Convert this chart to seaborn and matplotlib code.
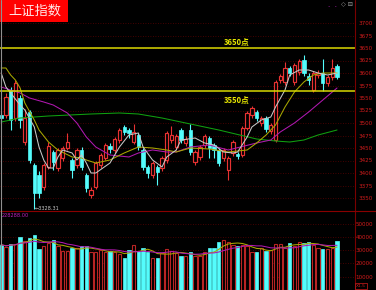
import numpy as np
import pandas as pd
import matplotlib
matplotlib.use("Agg")
import matplotlib.pyplot as plt
from matplotlib.patches import Rectangle
from matplotlib.lines import Line2D
import seaborn as sns

# ---------------- data ----------------
opens = [3516, 3516, 3566, 3510, 3550, 3462, 3522, 3416, 3396, 3372,
         3412, 3442, 3410, 3430, 3450, 3426, 3416, 3446, 3396, 3356,
         3372, 3416, 3430, 3454, 3446, 3466, 3492, 3486, 3462, 3476,
         3446, 3412, 3396, 3412, 3410, 3426, 3466, 3452, 3486, 3460,
         3486, 3422, 3432, 3456, 3470, 3456, 3446, 3430, 3406, 3440,
         3438, 3436, 3490, 3516, 3522, 3500, 3510, 3484, 3466, 3586,
         3582, 3610, 3582, 3602, 3626, 3594, 3566, 3596, 3600, 3580,
         3592, 3614]
closes = [3510, 3552, 3506, 3580, 3506, 3510, 3426, 3360, 3360, 3416,
          3454, 3422, 3446, 3450, 3462, 3406, 3446, 3412, 3370, 3366,
          3420, 3436, 3456, 3448, 3468, 3486, 3482, 3480, 3482, 3452,
          3412, 3400, 3420, 3402, 3430, 3480, 3476, 3474, 3466, 3468,
          3442, 3442, 3452, 3474, 3450, 3446, 3420, 3446, 3430, 3462,
          3434, 3490, 3520, 3530, 3510, 3510, 3488, 3496, 3582, 3594,
          3610, 3600, 3616, 3624, 3600, 3586, 3600, 3600, 3580, 3592,
          3610, 3592]
highs = [3524, 3560, 3572, 3586, 3556, 3528, 3526, 3420, 3404, 3420,
         3462, 3446, 3450, 3454, 3480, 3430, 3450, 3452, 3400, 3372,
         3424, 3440, 3460, 3460, 3472, 3490, 3496, 3490, 3498, 3480,
         3450, 3416, 3424, 3416, 3434, 3484, 3494, 3478, 3490, 3474,
         3498, 3446, 3456, 3478, 3474, 3460, 3450, 3450, 3434, 3466,
         3442, 3494, 3524, 3534, 3526, 3514, 3514, 3500, 3586, 3598,
         3622, 3614, 3620, 3628, 3636, 3600, 3604, 3606, 3628, 3596,
         3628, 3618]
lows = [3500, 3510, 3486, 3504, 3490, 3456, 3420, 3328.31, 3350, 3366,
        3408, 3406, 3404, 3424, 3446, 3390, 3410, 3406, 3362, 3350,
        3368, 3410, 3426, 3440, 3440, 3460, 3476, 3470, 3458, 3446,
        3406, 3390, 3390, 3376, 3404, 3420, 3460, 3446, 3460, 3454,
        3436, 3416, 3426, 3450, 3430, 3430, 3414, 3424, 3386, 3434,
        3428, 3432, 3486, 3510, 3504, 3494, 3482, 3478, 3462, 3580,
        3576, 3594, 3576, 3596, 3594, 3576, 3562, 3590, 3564, 3574,
        3586, 3588]
volumes = [34100, 32300, 34800, 34800, 39900, 36600, 39100, 41700, 30800, 33300,
           35400, 37400, 32800, 29000, 29000, 31600, 31600, 33300, 32800, 28300,
           28300, 29800, 28300, 29000, 28300, 27300, 24000, 30300, 34100, 29000,
           31600, 28300, 24000, 24000, 27800, 30800, 29000, 27800, 25800, 25300,
           28300, 25800, 25300, 28300, 31600, 31600, 35900, 37900, 35900, 34100,
           32800, 34100, 32800, 28300, 28300, 31600, 29000, 30300, 34800, 34800,
           31600, 35400, 33300, 35900, 35400, 35900, 34100, 31600, 30800, 30800,
           31600, 36600]

# moving-average lines (candle index, value)
ma5_idx = [0, 1, 4, 5, 7, 8, 9, 10, 11, 12, 13, 15, 16, 17, 18, 19, 20, 23, 25, 27,
           29, 30, 32, 34, 35, 37, 38, 41, 43, 45, 47, 49, 50, 52, 53, 55, 57, 58,
           60, 61, 63, 65, 67, 69, 71]
ma5_val = [3600, 3572, 3536, 3526, 3492, 3452, 3426, 3410, 3410, 3432, 3446, 3440,
           3426, 3436, 3420, 3400, 3400, 3420, 3452, 3476, 3480, 3452, 3426, 3412,
           3432, 3446, 3466, 3470, 3460, 3456, 3442, 3440, 3442, 3472, 3492, 3506,
           3512, 3532, 3566, 3596, 3606, 3606, 3600, 3596, 3600]
ma10_idx = [0, 1, 2, 3, 4, 5, 7, 8, 10, 12, 15, 17, 18, 20, 23, 26, 29, 32, 35, 37,
            40, 44, 48, 52, 54, 56, 58, 60, 62, 64, 66, 68, 71]
ma10_val = [3610, 3610, 3596, 3586, 3570, 3540, 3506, 3486, 3462, 3446, 3432, 3430,
            3426, 3420, 3426, 3440, 3452, 3450, 3446, 3442, 3450, 3448, 3442, 3446,
            3460, 3476, 3496, 3532, 3562, 3582, 3596, 3600, 3600]
ma20_idx = [0, 2, 4, 6, 9, 11, 14, 16, 18, 20, 23, 27, 29, 32, 35, 37, 40, 44, 48,
            54, 57, 59, 62, 65, 68, 71]
ma20_val = [3572, 3566, 3560, 3550, 3542, 3536, 3520, 3500, 3472, 3452, 3436, 3432,
            3440, 3446, 3442, 3442, 3452, 3456, 3446, 3460, 3466, 3482, 3500, 3522,
            3546, 3570]
ma60_idx = [0, 4, 10, 19, 25, 29, 34, 37, 40, 46, 54, 58, 61, 64, 67, 71]
ma60_val = [3502, 3510, 3514, 3518, 3520, 3518, 3510, 3504, 3498, 3486, 3468, 3464,
            3462, 3466, 3476, 3486]

price_ticks = [3350, 3375, 3400, 3425, 3450, 3475, 3500, 3525, 3550, 3575,
               3600, 3625, 3650, 3675, 3700]
vol_ticks = [10000, 20000, 30000, 40000, 50000]
level_values = [3650, 3564]
level_labels = ["3650点", "3550点"]
title_text = "上证指数"
low_label = "←3328.31"
vol_label = "228288.00"

# ---------------- style ----------------
sns.set_theme(style="dark", rc={"axes.facecolor": "black", "figure.facecolor": "black",
                                "savefig.facecolor": "black"})
plt.rcParams["font.family"] = ["DejaVu Sans", "Noto Sans CJK SC"]

W, H = 376, 290
fig = plt.figure(figsize=(W / 100, H / 100), dpi=100)
fig.patch.set_facecolor("black")

split = 211  # pixel row of the panel separator
right = 355
ax_p = fig.add_axes([0, (H - split) / H, right / W, split / H])
ax_v = fig.add_axes([0, 0, right / W, (H - split) / H])

UP = "#e83232"
DOWN = "#54fcfc"
VUP = "#b82424"
GRID = "#5c0000"
TICK = "#d01c1c"

n = len(closes)
x = np.arange(n)
xlim = (-0.25, 74.8)

# ---------------- price panel ----------------
for ax in (ax_p, ax_v):
    ax.set_facecolor("black")
    for s in ax.spines.values():
        s.set_visible(False)
    ax.set_xlim(*xlim)
    ax.set_xticks([])
    ax.grid(False)

ax_p.set_ylim(3324, 3746)
for t in price_ticks:
    ax_p.axhline(t, color=GRID, lw=0.6, ls=(0, (1, 2)), zorder=0)

bw = 0.7
for i in range(n):
    o, h, l, c = opens[i], highs[i], lows[i], closes[i]
    if c >= o:
        ax_p.vlines(i, c, h, color=UP, lw=0.8, zorder=2)
        ax_p.vlines(i, l, o, color=UP, lw=0.8, zorder=2)
        ax_p.bar(i, c - o, bottom=o, width=bw, facecolor="black", edgecolor=UP,
                 linewidth=0.85, zorder=3)
    else:
        ax_p.vlines(i, l, h, color=DOWN, lw=0.8, zorder=2)
        ax_p.bar(i, o - c, bottom=c, width=bw, facecolor=DOWN, edgecolor=DOWN,
                 linewidth=0.5, zorder=3)

for xs, ys, col in [(ma60_idx, ma60_val, "#10a010"), (ma20_idx, ma20_val, "#b018b0"),
                    (ma10_idx, ma10_val, "#a8a800"), (ma5_idx, ma5_val, "#c8c8c8")]:
    sns.lineplot(x=xs, y=ys, ax=ax_p, color=col, linewidth=0.75, legend=False,
                 errorbar=None, zorder=4)

for v in level_values:
    ax_p.axhline(v, color="#d8d800", lw=1.1, zorder=5)
ax_p.text(49.8, 3662, level_labels[0], color="#e8e800", fontsize=5.5, fontweight="bold",
          ha="center", va="center", family=["Noto Sans CJK SC", "DejaVu Sans"], zorder=6)
ax_p.text(49.8, 3546, level_labels[1], color="#e8e800", fontsize=5.5, fontweight="bold",
          ha="center", va="center", family=["Noto Sans CJK SC", "DejaVu Sans"], zorder=6)
ax_p.text(7.2, 3328.31, low_label, color="#c8c8c8", fontsize=3.6, ha="left",
          va="center", clip_on=False, zorder=6)

ax_p.yaxis.tick_right()
ax_p.set_yticks(price_ticks)
ax_p.set_yticklabels([str(t) for t in price_ticks], color=TICK, fontsize=4.1)
ax_p.tick_params(axis="y", length=0, pad=13)
for lab in ax_p.get_yticklabels():
    lab.set_horizontalalignment("right")
ax_p.set_ylabel("")

# ---------------- volume panel ----------------
ax_v.set_ylim(0, 59400)
for t in vol_ticks:
    ax_v.axhline(t, color=GRID, lw=0.6, ls=(0, (1, 2)), zorder=0)
for i in range(n):
    if closes[i] >= opens[i]:
        ax_v.bar(i, volumes[i], width=bw, facecolor="black", edgecolor=VUP,
                 linewidth=0.8, zorder=2)
    else:
        ax_v.bar(i, volumes[i], width=bw, facecolor=DOWN, edgecolor=DOWN,
                 linewidth=0.5, zorder=2)
vs = pd.Series(volumes, dtype=float)
sns.lineplot(x=x, y=vs.rolling(5, min_periods=1).mean().values, ax=ax_v,
             color="#a8a800", linewidth=0.75, legend=False, errorbar=None, zorder=3)
sns.lineplot(x=x, y=vs.rolling(10, min_periods=1).mean().values, ax=ax_v,
             color="#b018b0", linewidth=0.75, legend=False, errorbar=None, zorder=3)
ax_v.yaxis.tick_right()
ax_v.set_yticks(vol_ticks)
ax_v.set_yticklabels([str(t) for t in vol_ticks], color=TICK, fontsize=4.1)
ax_v.tick_params(axis="y", length=0, pad=13)
for lab in ax_v.get_yticklabels():
    lab.set_horizontalalignment("right")
ax_v.set_ylabel("")
ax_v.text(0.005, 0.97, vol_label, transform=ax_v.transAxes, color="#c020c0",
          fontsize=3.6, ha="left", va="top")

# ---------------- frame decorations ----------------
fig.add_artist(Line2D([right / W, right / W], [0, 1], transform=fig.transFigure,
                      color="#7a0000", lw=0.8))
fig.add_artist(Line2D([0, 1], [(H - split) / H, (H - split) / H],
                      transform=fig.transFigure, color="#8a0000", lw=0.8))
fig.add_artist(Line2D([0.6 / W, 0.6 / W], [0, 1], transform=fig.transFigure,
                      color="#909090", lw=0.8))
fig.add_artist(Rectangle((0, 1 - 22 / H), 68 / W, 22 / H, transform=fig.transFigure,
                         facecolor="#ff0000", edgecolor="none"))
fig.text(35 / W, 1 - 11.5 / H, title_text, color="#ffe8e8", fontsize=9.5,
         ha="center", va="center", family=["Noto Sans CJK SC", "DejaVu Sans"])
fig.text(347 / W, 1 - 5 / H, "◇ ⊟", color="#a0a0a0", fontsize=4.5,
         ha="center", va="center")
fig.text(332 / W, 1 - 7 / H, "·  ·", color="#c020c0", fontsize=5,
         ha="center", va="center")
fig.text(361 / W, 4 / H, "X1.5", color=TICK, fontsize=3.2, ha="center", va="center",
         bbox=dict(boxstyle="square,pad=0.15", facecolor="black", edgecolor=TICK, lw=0.5))

fig.savefig("out.png", dpi=100, facecolor="black")
